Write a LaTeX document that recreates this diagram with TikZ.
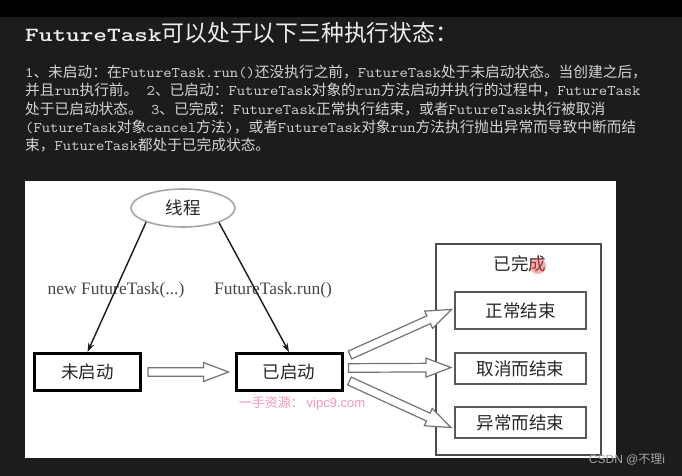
\documentclass[tikz,border=0pt]{standalone}
\usepackage{fontspec}
\setmainfont{Noto Sans CJK SC}
\setmonofont{Latin Modern Mono}[FakeStretch=1.1]
\newfontfamily\titlemono{Latin Modern Mono Light}[FakeStretch=1.3]
\newfontfamily\tnr{Liberation Serif}
\newfontfamily\arialf{Liberation Sans}
\usetikzlibrary{shapes.geometric,arrows.meta,calc}
\definecolor{bgdark}{RGB}{28,28,28}
\definecolor{bodytext}{RGB}{212,212,212}
\definecolor{titletext}{RGB}{238,238,238}
\definecolor{wmpink}{RGB}{240,150,190}
\newcommand\diagfont{\fontsize{17.5}{20}\selectfont}
\newcommand\blkarrow[2]{%
  \coordinate (ba-h) at ($(#2)!25pt!(#1)$);
  \draw[blockarr] ($(#1)!4.3pt!90:(#2)$) -- ($(ba-h)!4.3pt!90:(#2)$) -- ($(ba-h)!9.5pt!90:(#2)$) -- (#2)
    -- ($(ba-h)!9.5pt!-90:(#2)$) -- ($(ba-h)!4.3pt!-90:(#2)$) -- ($(#1)!4.3pt!-90:(#2)$) -- cycle;}
\begin{document}
\begin{tikzpicture}[x=1pt,y=-1pt,
  bodyline/.style={anchor=base west, inner sep=0pt, text=bodytext, font=\fontsize{14.7}{18}\selectfont},
  sbox/.style={draw=black, line width=3pt, minimum width=106pt, minimum height=37pt, inner sep=0pt, font=\diagfont, text=black!85},
  ibox/.style={draw=black!65, line width=2pt, minimum width=131pt, inner sep=0pt, font=\diagfont, text=black!85},
  outerbox/.style={draw=black!70, line width=2pt, minimum width=165pt, minimum height=211pt, inner sep=0pt},
  ell/.style={ellipse, draw=black!35, line width=1.6pt, minimum width=104pt, minimum height=38pt, inner sep=0pt, font=\diagfont, text=black!85},
  thinarr/.style={line width=1.4pt, draw=black!90, -{Stealth[length=9pt,width=6pt]}},
  blockarr/.style={draw=black!55, line width=1.2pt, fill=white, line join=miter},
  edgelbl/.style={font=\tnr\fontsize{17.5}{20}\selectfont, text=black!72, inner sep=0pt},
  lbl/.style={font=\diagfont, text=black!85, inner sep=0pt}]
\fill[bgdark] (0,0) rectangle (682,476);
\fill[black] (0,0) rectangle (682,17);
\useasboundingbox (0,0) rectangle (682,476);
% heading and paragraph
\node[anchor=base west, inner sep=0pt, text=titletext, font=\fontsize{22.8}{26}\selectfont] (title) at (25,42)
  {{\titlemono\bfseries\fontsize{20}{26}\selectfont FutureTask}可以处于以下三种执行状态：};
\node[bodyline] (l1) at (25,77.5) {\texttt{1}、未启动：在\texttt{FutureTask.run()}还没执行之前，\texttt{FutureTask}处于未启动状态。当创建之后，};
\node[bodyline] (l2) at (25,95.8) {并且\texttt{run}执行前。\texttt{\ 2}、已启动：\texttt{FutureTask}对象的\texttt{run}方法启动并执行的过程中，\texttt{FutureTask}};
\node[bodyline] (l3) at (25,114.1) {处于已启动状态。\texttt{\ 3}、已完成：\texttt{FutureTask}正常执行结束，或者\texttt{FutureTask}执行被取消};
\node[bodyline] (l4) at (25,132.4) {\texttt{(FutureTask}对象\texttt{cancel}方法\texttt{)}，或者\texttt{FutureTask}对象\texttt{run}方法执行抛出异常而导致中断而结};
\node[bodyline] (l5) at (25,150.7) {束，\texttt{FutureTask}都处于已完成状态。};
% diagram panel
\node[fill=white, minimum width=591pt, minimum height=277pt, inner sep=0pt] (panel) at (320.5,319.5) {};
\node[ell] (thread) at (183,208) {线程};
\node[sbox] (qd) at (87.5,372) {未启动};
\node[sbox] (yd) at (289,372) {已启动};
\node[outerbox] (done) at (518.5,349.5) {};
\node[lbl] (donelbl) at (520,264) {已完成};
\node[ibox, minimum height=37pt] (normal) at (520.5,310.5) {正常结束};
\node[ibox, minimum height=31pt] (cancel) at (520.5,368.5) {取消而结束};
\node[ibox, minimum height=31pt] (exc) at (520.5,422.5) {异常而结束};
\node[edgelbl] (lnew) at (116,290) {new FutureTask(...)};
\node[edgelbl] (lrun) at (273,290) {FutureTask.run()};
\draw[thinarr] (thread.201) -- (qd.north);
\draw[thinarr] (thread.338) -- (yd.north);
\coordinate (a0s) at ($(qd.east)+(6,0)$);
\coordinate (a0e) at ($(yd.west)+(-6,0)$);
\coordinate (a1s) at ($(yd.east)+(6.5,-17)$);
\coordinate (a1e) at ($(normal.west)+(-2.5,-1)$);
\coordinate (a2s) at ($(yd.east)+(5,-4)$);
\coordinate (a2e) at ($(cancel.west)+(-3,-1)$);
\coordinate (a3s) at ($(yd.east)+(6,9)$);
\coordinate (a3e) at ($(exc.west)+(-3,5)$);
\blkarrow{a0s}{a0e}
\blkarrow{a1s}{a1e}
\blkarrow{a2s}{a2e}
\blkarrow{a3s}{a3e}
\fill[red!70, opacity=0.45] (538,266) circle (8);
\node[inner sep=0pt, text=wmpink, font=\fontsize{13}{15}\selectfont] (wm) at (302,403) {一手资源：\ {\arialf vipc9.com}};
\node[inner sep=0pt, text=black!35, font=\fontsize{12}{14}\selectfont] (csdn) at (627,460) {{\arialf CSDN @}不理{\arialf i}};
\end{tikzpicture}
\end{document}
